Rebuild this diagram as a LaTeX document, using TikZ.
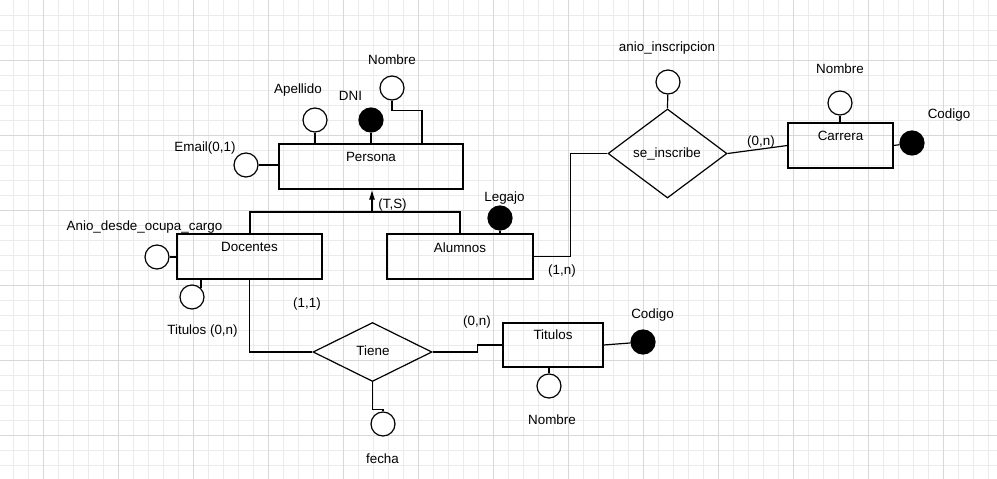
\documentclass[tikz,border=0pt]{standalone}
\usepackage{fontspec}
\setmainfont{Liberation Sans}
\usepackage{xcolor}
\usepackage{tikz}
\usetikzlibrary{arrows.meta,shapes.geometric}
\definecolor{gridfein}{HTML}{EBEBEB}
\definecolor{gridgrob}{HTML}{D8D8D8}

\tikzset{
  entidad/.style={draw, line width=1.2pt, rectangle, inner sep=0pt},
  entlab/.style={anchor=north, inner sep=0pt, yshift=-8.5pt},
  relacion/.style={draw, line width=1.2pt, diamond, inner sep=0pt},
  atrib/.style={draw, line width=1.2pt, circle, minimum size=24pt, inner sep=0pt, fill=white},
  clave/.style={atrib, fill=black},
  txt/.style={inner sep=0pt, text height=.72em, text depth=.2em, yshift=-2.5pt},
}

\begin{document}
\begin{tikzpicture}[x=1pt, y=-1pt, line width=1.2pt,
  font=\fontsize{13.4pt}{16pt}\selectfont]
  % Hintergrund mit Raster
  \useasboundingbox (0,0) rectangle (997,479);
  \fill[white] (0,0) rectangle (997,479);
  \foreach \x in {13,28,...,988} \draw[gridfein, line width=1pt] (\x,0) -- (\x,479);
  \foreach \y in {15,30,...,465} \draw[gridfein, line width=1pt] (0,\y) -- (997,\y);
  \foreach \x in {43,118,...,943} \draw[gridgrob, line width=1pt] (\x,0) -- (\x,479);
  \foreach \y in {60,135,...,435} \draw[gridgrob, line width=1pt] (0,\y) -- (997,\y);

  % Entidades
  \node[entidad, minimum width=184pt, minimum height=45pt,
        label={[entlab]north:Persona}] (persona) at (371,166.5) {};
  \node[entidad, minimum width=145pt, minimum height=45pt,
        label={[entlab]north:Docentes}] (docentes) at (249.5,256.5) {};
  \node[entidad, minimum width=146pt, minimum height=45pt,
        label={[entlab]north:Alumnos}] (alumnos) at (460,256.5) {};
  \node[entidad, minimum width=105pt, minimum height=45pt,
        label={[entlab]north:Carrera}] (carrera) at (840.5,145.5) {};
  \node[entidad, minimum width=100pt, minimum height=44pt,
        label={[entlab, yshift=2pt]north:Titulos}] (titulos) at (553,345) {};

  % Relaciones
  \node[relacion, minimum width=119pt, minimum height=59pt, aspect=2] (tiene) at (372.5,352) {};
  \node[txt] (tieneLab) at (373,350) {Tiene};
  \node[relacion, minimum width=119pt, minimum height=89pt, aspect=1.34] (inscribe) at (667.5,153.5) {};
  \node[txt] (inscribeLab) at (667,152) {se\_inscribe};

  % Atributos de Persona
  \node[atrib] (email) at (246,165) {};
  \node[txt] (emailLab) at (205,146) {Email(0,1)};
  \node[atrib] (apellido) at (315,120) {};
  \node[txt] (apellidoLab) at (298,88) {Apellido};
  \node[clave] (dni) at (371,120) {};
  \node[txt] (dniLab) at (350.5,95) {DNI};
  \node[atrib] (nombreP) at (392,88) {};
  \node[txt] (nombrePLab) at (392,59) {Nombre};
  \coordinate (pNom) at (422,144);

  \draw (email) -- (email -| persona.west);
  \draw (apellido) -- (apellido |- persona.north);
  \draw (dni) -- (dni |- persona.north);
  \draw (nombreP.south) -- ++(0,10) -| (pNom);

  % Jerarquia (T,S)
  \coordinate (hIzq) at (250,212);
  \coordinate (hDer) at (460,212);
  \coordinate (hMed) at (372,212);
  \draw (docentes.north -| hIzq) -- (hIzq) -- (hDer) -- (alumnos.north -| hDer);
  \draw[-{Latex[length=10pt,width=6pt]}] (hMed) -- (hMed |- persona.south);
  \node[txt] (tsLab) at (392.5,203) {(T,S)};

  % Atributos de Docentes
  \node[atrib] (anioDoc) at (157,257) {};
  \node[txt] (anioDocLab) at (144.5,225) {Anio\_desde\_ocupa\_cargo};
  \node[atrib] (titDoc) at (192,297) {};
  \node[txt] (titDocLab) at (202.5,329) {Titulos (0,n)};
  \draw (anioDoc) -- (anioDoc -| docentes.west);
  \draw (titDoc.north east) -- (titDoc.north east |- docentes.south);

  % Docentes - Tiene - Titulos
  \draw (docentes.south) |- (tiene.west);
  \node[txt] (card11) at (307,302) {(1,1)};
  \draw (tiene.east) -- ++(45,0) |- (titulos.west);
  \node[txt] (card0nT) at (477,320) {(0,n)};
  \node[atrib] (fecha) at (383,424) {};
  \node[txt] (fechaLab) at (382.5,458) {fecha};
  \draw (tiene.south) -- ++(0,27) -| (fecha.north);

  % Atributos de Titulos
  \node[clave] (codT) at (643,342) {};
  \node[txt] (codTLab) at (652.5,313) {Codigo};
  \node[atrib] (nomT) at (549,386) {};
  \node[txt] (nomTLab) at (552,419) {Nombre};
  \draw (titulos.east) -- (codT);
  \draw (nomT) -- (nomT |- titulos.south);

  % Alumnos - se_inscribe - Carrera
  \node[clave] (legajo) at (500,218) {};
  \node[txt] (legajoLab) at (504.5,196) {Legajo};
  \draw (legajo) -- (legajo |- alumnos.north);
  \draw (alumnos.east) -- ++(37,0) |- (inscribe.west);
  \node[txt] (card1n) at (562,269) {(1,n)};
  \draw (inscribe.east) -- (carrera.west);
  \node[txt] (card0nC) at (761,140) {(0,n)};
  \node[atrib] (anioIns) at (668,82) {};
  \node[txt] (anioInsLab) at (667,46) {anio\_inscripcion};
  \draw (anioIns) -- (inscribe.north);

  % Atributos de Carrera
  \node[atrib] (nomC) at (840,103) {};
  \node[txt] (nomCLab) at (840,68) {Nombre};
  \node[clave] (codC) at (912,143) {};
  \node[txt] (codCLab) at (949,113) {Codigo};
  \draw (nomC) -- (nomC |- carrera.north);
  \draw (carrera.east) -- (codC);
\end{tikzpicture}
\end{document}
